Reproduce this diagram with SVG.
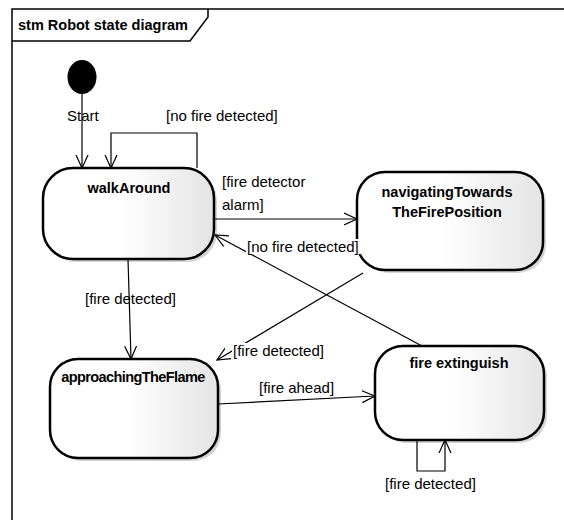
<svg xmlns="http://www.w3.org/2000/svg" width="564" height="520" viewBox="0 0 564 520">
<style>
.frame{fill:none;stroke:#000;stroke-width:1.5}
.st{stroke:#000;stroke-width:2.5;fill:url(#g)}
.sh{fill:#b8b8b8;opacity:0.6}
.name{font-family:"Liberation Sans",Arial,sans-serif;font-size:14.5px;font-weight:bold;text-anchor:middle;fill:#000}
.lbl{font-family:"Liberation Sans",Arial,sans-serif;font-size:15px;fill:#000}
.c{fill:none;stroke:#000;stroke-width:1.2}
.bg{fill:#fff}
</style>
<defs>
<linearGradient id="g" x1="0" y1="0" x2="1" y2="0">
<stop offset="0.45" stop-color="#ffffff"/>
<stop offset="1" stop-color="#e4e4e4"/>
</linearGradient>
<marker id="a" markerUnits="userSpaceOnUse" markerWidth="16" markerHeight="14" refX="13" refY="6" orient="auto" viewBox="0 0 16 12">
<path d="M0,0 L13,6 L0,12" fill="none" stroke="#000" stroke-width="1.2"/>
</marker>
</defs>
<rect width="564" height="520" fill="#fff"/>
<g id="frame">
<path class="frame" d="M12,520 L12,9 L564,9"/>
<path class="frame" d="M12,41 L190,41 L208,17 L208,9"/>
<text x="18" y="30" class="name" style="text-anchor:start">stm Robot state diagram</text>
</g>
<g id="start">
<ellipse cx="82" cy="77" rx="14.5" ry="17" fill="#000"/>
<text x="67" y="121" class="lbl">Start</text>
</g>
<g id="walkAround">
<rect x="46" y="171" width="171" height="91" rx="30" class="sh"/>
<rect x="43" y="168" width="171" height="91" rx="30" class="st"/>
<text x="129" y="193" class="name">walkAround</text>
</g>
<g id="navigatingTowardsTheFirePosition">
<rect x="360" y="175" width="186" height="98" rx="28" class="sh"/>
<rect x="357" y="172" width="186" height="98" rx="28" class="st"/>
<text x="447" y="197" class="name">navigatingTowards</text>
<text x="447" y="217" class="name">TheFirePosition</text>
</g>
<g id="approachingTheFlame">
<rect x="53" y="362" width="168" height="99" rx="28" class="sh"/>
<rect x="50" y="359" width="168" height="99" rx="28" class="st"/>
<text x="133" y="382" class="name" style="letter-spacing:-0.6px">approachingTheFlame</text>
</g>
<g id="fireExtinguish">
<rect x="378" y="349" width="169" height="94" rx="28" class="sh"/>
<rect x="375" y="346" width="169" height="94" rx="28" class="st"/>
<text x="459" y="368" class="name">fire extinguish</text>
</g>
<g id="connectors">
<path class="c" d="M82,94 L82,168" marker-end="url(#a)"/>
<path class="c" d="M197,168 L197,133 L111,133 L111,168" marker-end="url(#a)"/>
<text x="166" y="121" class="lbl">[no fire detected]</text>
<path class="c" d="M214,219 L357,219" marker-end="url(#a)"/>
<text x="222" y="187" class="lbl">[fire detector</text>
<text x="222" y="210" class="lbl">alarm]</text>
<path class="c" d="M422,346 L215,235" marker-end="url(#a)"/>
<rect x="246" y="239" width="115" height="15" class="bg"/>
<text x="247" y="252" class="lbl">[no fire detected]</text>
<path class="c" d="M363,273 L217,360" marker-end="url(#a)"/>
<rect x="232" y="343" width="94" height="15" class="bg"/>
<text x="233" y="356" class="lbl">[fire detected]</text>
<path class="c" d="M128,259 L131,359" marker-end="url(#a)"/>
<text x="85" y="304" class="lbl">[fire detected]</text>
<path class="c" d="M218,404 L375,396" marker-end="url(#a)"/>
<text x="259" y="393" class="lbl">[fire ahead]</text>
<path class="c" d="M417,440 L417,471 L445,471 L445,440" marker-end="url(#a)"/>
<text x="385" y="489" class="lbl">[fire detected]</text>
</g>
</svg>
